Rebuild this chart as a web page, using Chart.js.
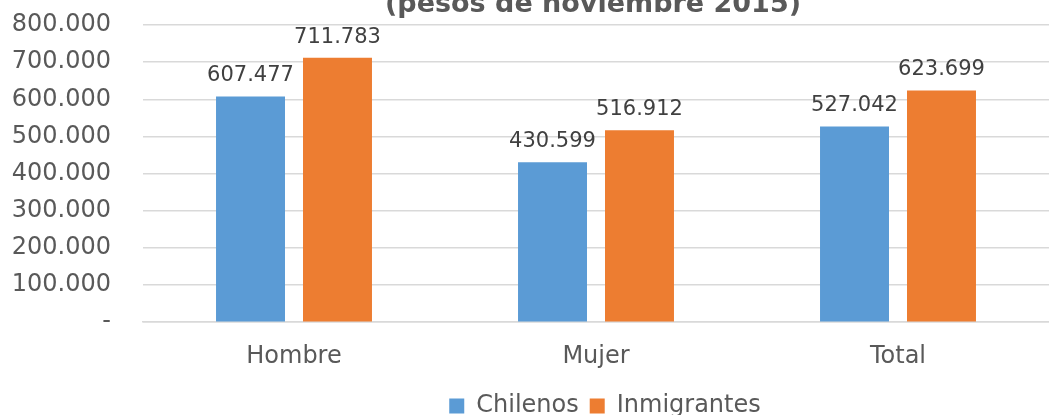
<!DOCTYPE html>
<html>
<head>
<meta charset="utf-8">
<script src="https://cdn.jsdelivr.net/npm/chart.js@4"></script>
<style>
  html, body { margin: 0; padding: 0; background: #fff; overflow: hidden; }
  #wrap { width: 1049px; height: 415px; overflow: hidden; }
</style>
</head>
<body>
<div id="wrap"><canvas id="ingresoChart" width="1049" height="428"></canvas></div>
<script>
const categories = ['Hombre', 'Mujer', 'Total'];
const chilenos = [607477, 430599, 527042];
const inmigrantes = [711783, 516912, 623699];
const yTicks = [0, 100000, 200000, 300000, 400000, 500000, 600000, 700000, 800000];
const titleText = '(pesos de noviembre 2015)';

const FONT = "'DejaVu Sans', Verdana, sans-serif";

// 607477 -> "607.477", 0 -> "-"
function fmt(v) {
  if (v === 0) return '-';
  return String(v).replace(/\B(?=(\d{3})+(?!\d))/g, '.');
}

// title only half visible at top edge
const titlePlugin = {
  id: 'cutTitle',
  afterDraw(chart) {
    const c = chart.ctx, a = chart.chartArea;
    c.save();
    c.font = 'bold 27px ' + FONT;
    c.fillStyle = '#595959';
    c.textAlign = 'center';
    c.textBaseline = 'alphabetic';
    c.fillText(titleText, (a.left + a.right) / 2 - 3, 12);
    c.restore();
  }
};

// value labels above each bar
const valueLabels = {
  id: 'valueLabels',
  afterDatasetsDraw(chart) {
    const c = chart.ctx;
    c.save();
    c.font = '21px ' + FONT;
    c.fillStyle = '#404040';
    c.textAlign = 'center';
    c.textBaseline = 'bottom';
    chart.data.datasets.forEach((ds, i) => {
      chart.getDatasetMeta(i).data.forEach((bar, j) => {
        c.fillText(fmt(ds.data[j]), bar.x, bar.y - 10);
      });
    });
    c.restore();
  }
};

// legend sits under the plot centre, not the canvas centre
const legendShift = {
  id: 'legendShift',
  afterLayout(chart) {
    const lg = chart.legend, a = chart.chartArea;
    const dx = (a.left + a.right) / 2 + 9 - (lg.left + lg.right) / 2;
    lg.left += dx;
    lg.right += dx;
  }
};

const ctx = document.getElementById('ingresoChart').getContext('2d');
new Chart(ctx, {
  type: 'bar',
  data: {
    labels: categories,
    datasets: [
      { label: 'Chilenos', data: chilenos, backgroundColor: '#5B9BD5' },
      { label: 'Inmigrantes', data: inmigrantes, backgroundColor: '#ED7D31' }
    ]
  },
  options: {
    responsive: false,
    animation: false,
    devicePixelRatio: 1,
    categoryPercentage: 0.576,
    barPercentage: 0.793,
    layout: { padding: { top: 25, right: 0, bottom: 0, left: 0 } },
    plugins: {
      legend: {
        position: 'bottom',
        labels: {
          boxWidth: 15, boxHeight: 15,
          color: '#595959',
          font: { family: FONT, size: 24 },
          padding: 11
        }
      },
      tooltip: { enabled: false },
      title: { display: false }
    },
    scales: {
      x: {
        grid: { display: false },
        border: { color: '#d9d9d9', width: 1.5 },
        ticks: { color: '#595959', font: { family: FONT, size: 24 }, padding: 12 }
      },
      y: {
        min: 0, max: 800000,
        afterBuildTicks(scale) { scale.ticks = yTicks.map(v => ({ value: v })); },
        afterFit(scale) { scale.width = 143; },
        grid: { color: '#d9d9d9', lineWidth: 1.5, drawTicks: true, tickLength: 32, tickColor: 'rgba(0,0,0,0)' },
        border: { display: false },
        ticks: {
          color: '#595959',
          font: { family: FONT, size: 24 },
          padding: 0,
          callback: v => fmt(v)
        }
      }
    }
  },
  plugins: [valueLabels, titlePlugin, legendShift]
});
</script>
</body>
</html>
